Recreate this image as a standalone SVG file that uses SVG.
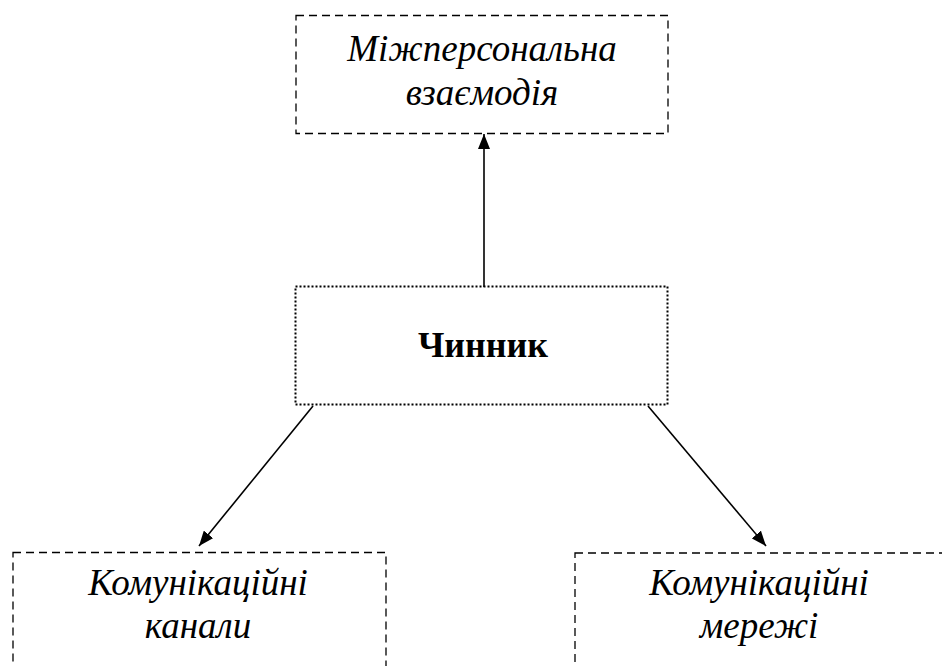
<svg xmlns="http://www.w3.org/2000/svg" width="942" height="666" viewBox="0 0 942 666">
  <style>
    .dash { fill: none; stroke: #000; stroke-width: 1.3; stroke-dasharray: 8 5; }
    .dot { fill: none; stroke: #000; stroke-width: 2; stroke-dasharray: 2 2; }
    .it { font-family: "Liberation Serif", "Times New Roman", serif; font-style: italic; font-size: 37px; text-anchor: middle; fill: #000; }
    .bd { font-family: "Liberation Serif", "Times New Roman", serif; font-weight: bold; font-size: 36px; text-anchor: middle; fill: #000; }
    .conn { stroke: #000; stroke-width: 1.6; fill: none; }
  </style>
  <defs>
    <marker id="arrow" viewBox="0 0 15 12" refX="15" refY="6" markerWidth="15" markerHeight="12" markerUnits="userSpaceOnUse" orient="auto">
      <path d="M0,0 L15,6 L0,12 z" fill="#000"/>
    </marker>
  </defs>
  <rect width="942" height="666" fill="#fff"/>

  <g id="connectors">
    <line class="conn" x1="484" y1="287" x2="484" y2="134" marker-end="url(#arrow)"/>
    <line class="conn" x1="313" y1="406" x2="199" y2="546" marker-end="url(#arrow)"/>
    <line class="conn" x1="648" y1="406" x2="766" y2="546" marker-end="url(#arrow)"/>
  </g>

  <g id="interpersonal">
    <rect class="dash" x="296" y="15.5" width="372" height="118"/>
    <text class="it" x="482" y="61">Міжперсональна</text>
    <text class="it" x="482" y="105">взаємодія</text>
  </g>

  <g id="factor">
    <rect class="dot" x="295.5" y="286.5" width="372" height="118"/>
    <text class="bd" x="483" y="357">Чинник</text>
  </g>

  <g id="channels">
    <rect class="dash" x="13" y="552.5" width="373" height="130"/>
    <text class="it" x="198" y="595">Комунікаційні</text>
    <text class="it" x="198" y="638">канали</text>
  </g>

  <g id="networks">
    <rect class="dash" x="575" y="553" width="373" height="130"/>
    <text class="it" x="759" y="595">Комунікаційні</text>
    <text class="it" x="759" y="638">мережі</text>
  </g>
</svg>
